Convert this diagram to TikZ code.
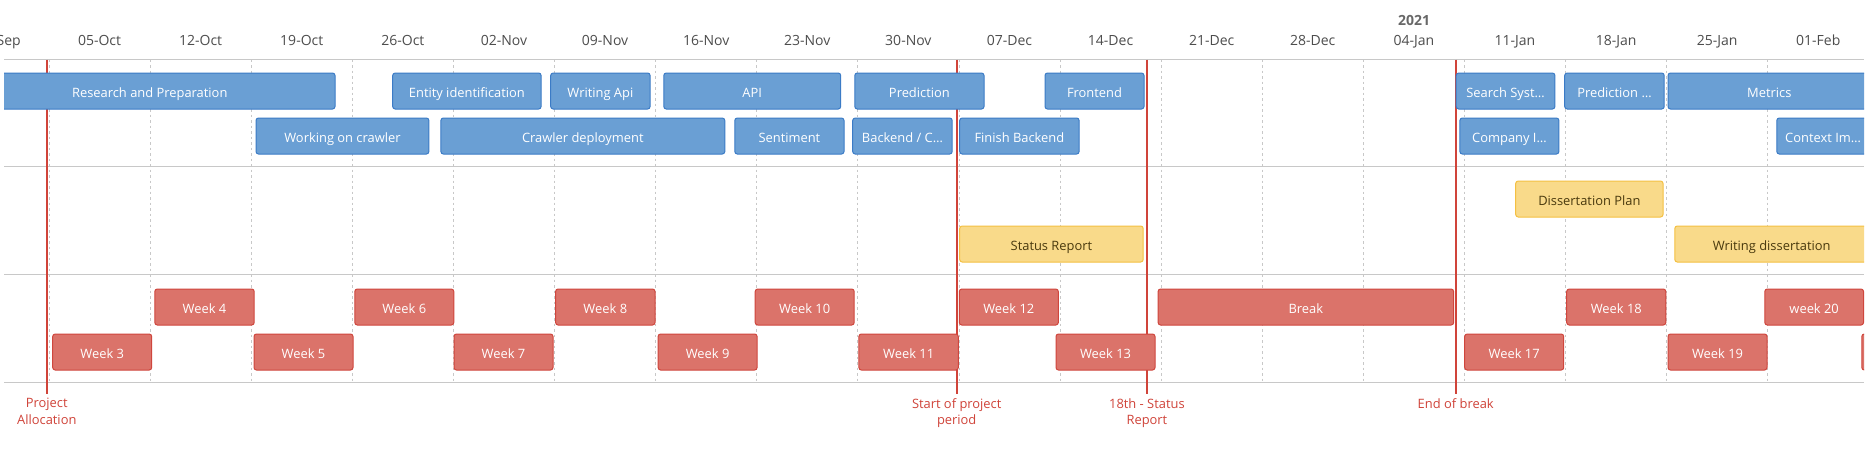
\documentclass[tikz,border=0pt]{standalone}
\usepackage{fontspec}
\setmainfont{Open Sans}
\definecolor{bfill}{HTML}{6A9FD4}
\definecolor{bdraw}{HTML}{3B7BC6}
\definecolor{rfill}{HTML}{DB736A}
\definecolor{rdraw}{HTML}{CF463D}
\definecolor{yfill}{HTML}{F9DA8A}
\definecolor{ydraw}{HTML}{F4C042}
\definecolor{ytext}{HTML}{4A3A0E}
\definecolor{markc}{HTML}{D0443A}
\definecolor{sepc}{HTML}{C8C8C8}
\definecolor{gridc}{HTML}{C8C8C8}
\definecolor{hdrc}{HTML}{4D4D4D}
\newcommand\itemfnt{\fontsize{12.9}{15}\selectfont}
\newcommand\hdrfnt{\fontsize{14}{16}\selectfont}
\newcommand\markfnt{\fontsize{12.9}{16.6}\selectfont}
\begin{document}
\begin{tikzpicture}[x=1pt,y=-1pt,
  itembox/.style={rounded corners=2.5pt, line width=1pt, minimum height=36pt,
    inner sep=0pt, font=\itemfnt, text=white, text height=13pt, text depth=0pt},
  bluebox/.style={itembox, fill=bfill, draw=bdraw},
  redbox/.style={itembox, fill=rfill, draw=rdraw},
  yellowbox/.style={itembox, fill=yfill, draw=ydraw, text=ytext},
  hdrlabel/.style={font=\hdrfnt, text=hdrc, inner sep=0pt, anchor=base},
  yearlabel/.style={font=\hdrfnt\bfseries, text=hdrc!85, inner sep=0pt, anchor=base},
  sepline/.style={draw=sepc, line width=1pt},
  gridline/.style={draw=gridc, line width=0.8pt, dash pattern=on 2.5pt off 3pt},
  markline/.style={draw=markc, line width=2pt},
  marklabel/.style={font=\markfnt, text=markc, align=center, inner sep=0pt, anchor=north}
]
\useasboundingbox (0,0) rectangle (1870,456);
\fill[white] (0,0) rectangle (1870,456);

% header
\node[yearlabel] (year) at (1414,25) {2021};
\begin{scope}
\clip (0,0) rectangle (1870,58);
\foreach \d [count=\n from 0] in {28-Sep,05-Oct,12-Oct,19-Oct,26-Oct,02-Nov,09-Nov,16-Nov,23-Nov,30-Nov,07-Dec,14-Dec,21-Dec,28-Dec,04-Jan,11-Jan,18-Jan,25-Jan,01-Feb}
  \node[hdrlabel] (date\n) at ({49+101.1*(\n-1)+50.55},45.5) {\d};
\end{scope}

% grid
\foreach \k in {0,...,17}
  \draw[gridline] ({49+101.1*\k},59.5) -- ({49+101.1*\k},382);
\foreach \yy [count=\n] in {59.5,166.5,274.5,382}
  \draw[sepline] (4,\yy) coordinate (sepL\n) -- (1864,\yy) coordinate (sepR\n);

% markers
\coordinate (m1t) at (46.8,59.5);  \coordinate (m1b) at (46.8,393.5);
\coordinate (m2t) at (956.7,59.5); \coordinate (m2b) at (956.7,393.5);
\coordinate (m3t) at (1146.9,59.5);\coordinate (m3b) at (1146.9,393.5);
\coordinate (m4t) at (1455.7,59.5);\coordinate (m4b) at (1455.7,393.5);
\foreach \m in {1,2,3,4} \draw[markline] (m\m t) -- (m\m b);
\node[marklabel] (lab1) at (46.8,398.3) {Project\\Allocation};
\node[marklabel] (lab2) at (956.7,398.3) {Start of project\\period};
\node[marklabel] (lab3) at (1146.9,398.3) {18th - Status\\Report};
\node[marklabel] (lab4) at (1455.7,398.3) {End of break};

% items
\begin{scope}
\clip (4,60) rectangle (1864,382);
% group 1, row 1
\node[bluebox, minimum width=370.5pt] (research) at (149.75,91) {Research and Preparation};
\node[bluebox, minimum width=148.4pt] (entity) at (466.9,91) {Entity identification};
\node[bluebox, minimum width=99.4pt] (wapi) at (600.4,91) {Writing Api};
\node[bluebox, minimum width=176.9pt] (api) at (752.25,91) {API};
\node[bluebox, minimum width=129.2pt] (pred) at (919.4,91) {Prediction};
\node[bluebox, minimum width=99pt] (front) at (1094.5,91) {Frontend};
\node[bluebox, minimum width=98.7pt] (search) at (1505.55,91) {Search Syst…};
\node[bluebox, minimum width=99.5pt] (pred2) at (1614.45,91) {Prediction …};
\node[bluebox, minimum width=202.5pt] (metrics) at (1769.25,91) {Metrics};
% group 1, row 2
\node[bluebox, minimum width=172.9pt] (crawl) at (342.45,136) {Working on crawler};
\node[bluebox, minimum width=283.9pt] (deploy) at (582.85,136) {Crawler deployment};
\node[bluebox, minimum width=109.2pt] (sent) at (789.4,136) {Sentiment};
\node[bluebox, minimum width=99.5pt] (backend) at (902.45,136) {Backend / C…};
\node[bluebox, minimum width=119.4pt] (finish) at (1019.4,136) {Finish Backend};
\node[bluebox, minimum width=99pt] (company) at (1509.4,136) {Company I…};
\node[bluebox, minimum width=93.7pt] (context) at (1823.65,136) {};
\node[font=\itemfnt, text=white, inner sep=0pt, anchor=base west] (contextlabel) at (1785,142.5) {Context Im…};
% group 2
\node[yellowbox, minimum width=147.3pt] (dplan) at (1589.35,199) {Dissertation Plan};
\node[yellowbox, minimum width=183.5pt] (status) at (1051.45,244) {Status Report};
\node[yellowbox, minimum width=193.7pt] (writing) at (1771.65,244) {Writing dissertation};
% group 3, row 1
\node[redbox, minimum width=99.4pt] (w4) at (204.5,307) {Week 4};
\node[redbox, minimum width=99pt] (w6) at (404.3,307) {Week 6};
\node[redbox, minimum width=99.4pt] (w8) at (605.3,307) {Week 8};
\node[redbox, minimum width=99pt] (w10) at (804.7,307) {Week 10};
\node[redbox, minimum width=99pt] (w12) at (1008.8,307) {Week 12};
\node[redbox, minimum width=295.5pt] (break) at (1305.85,307) {Break};
\node[redbox, minimum width=99.1pt] (w18) at (1616.25,307) {Week 18};
\node[redbox, minimum width=98.7pt] (w20) at (1814.15,307) {week 20};
% group 3, row 2
\node[redbox, minimum width=99pt] (w3) at (102.2,352) {Week 3};
\node[redbox, minimum width=99pt] (w5) at (303.5,352) {Week 5};
\node[redbox, minimum width=99pt] (w7) at (503.5,352) {Week 7};
\node[redbox, minimum width=99pt] (w9) at (707.6,352) {Week 9};
\node[redbox, minimum width=99.4pt] (w11) at (908.6,352) {Week 11};
\node[redbox, minimum width=99pt] (w13) at (1105.5,352) {Week 13};
\node[redbox, minimum width=99pt] (w17) at (1514.2,352) {Week 17};
\node[redbox, minimum width=99pt] (w19) at (1717.5,352) {Week 19};
\node[redbox, minimum width=99pt] (w21) at (1911.3,352) {};
\end{scope}
\end{tikzpicture}
\end{document}
